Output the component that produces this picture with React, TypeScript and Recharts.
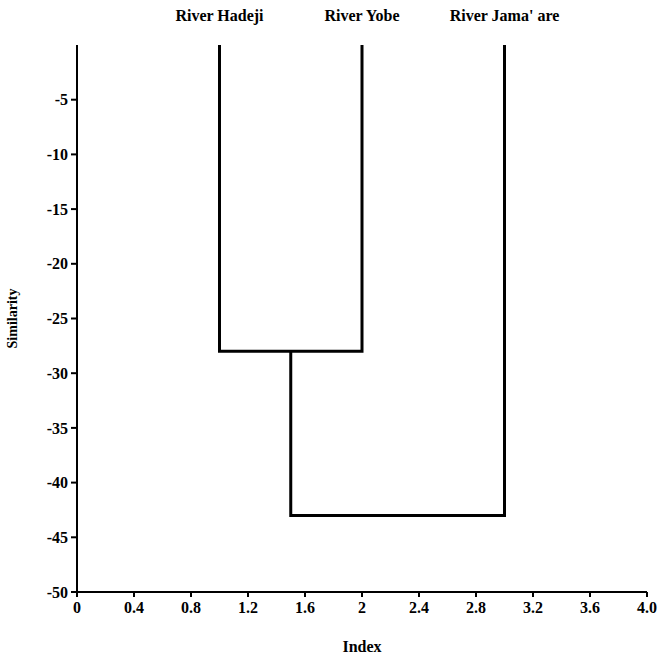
import { Line, LineChart, XAxis, YAxis, Label } from "recharts";

// leaves of the dendrogram, left to right
const leafNames = ["River Hadeji", "River Yobe", "River Jama' are"];
const leafIndex = [1, 2, 3];

// merges: [left member x, right member x, similarity at join]
const mergeLeft = [1, 1.5];
const mergeRight = [2, 3];
const mergeHeight = [-28, -43];
// where each member starts from (0 = leaf at top)
const mergeLeftFrom = [0, -28];
const mergeRightFrom = [0, 0];

const xTicks = [0, 0.4, 0.8, 1.2, 1.6, 2, 2.4, 2.8, 3.2, 3.6, 4.0];
const yTicks = [-5, -10, -15, -20, -25, -30, -35, -40, -45, -50];

const font = "'Liberation Serif', 'Times New Roman', serif";
const txt = { fontSize: 16, fontWeight: 700, fill: "#000", fontFamily: font };

const branches = mergeHeight.map((h, i) => [
  { x: mergeLeft[i], y: mergeLeftFrom[i] },
  { x: mergeLeft[i], y: h },
  { x: mergeRight[i], y: h },
  { x: mergeRight[i], y: mergeRightFrom[i] },
]);

const leafData = leafIndex.map((x) => ({ x, y: 0 }));

const fmtX = (v: number) => (v === 4 ? "4.0" : String(v));

export default function App() {
  return (
    <div style={{ position: "absolute", left: 0, top: 0, background: "#fff" }}>
      <LineChart width={662} height={656} margin={{ top: 0, right: 15, bottom: 0, left: 0 }}>
        <XAxis
          xAxisId="bottom"
          dataKey="x"
          type="number"
          domain={[0, 4]}
          ticks={xTicks}
          tickFormatter={fmtX}
          interval={0}
          height={64}
          stroke="#000"
          strokeWidth={2}
          tickSize={5}
          tickMargin={5}
          tick={txt}
        >
          <Label value="Index" position="insideBottom" offset={4} style={txt} />
        </XAxis>
        <XAxis
          xAxisId="top"
          orientation="top"
          dataKey="x"
          type="number"
          domain={[0, 4]}
          ticks={leafIndex}
          tickFormatter={(v: number) => leafNames[leafIndex.indexOf(v)] ?? ""}
          interval={0}
          height={45}
          axisLine={false}
          tickLine={false}
          tickSize={0}
          tickMargin={24}
          tick={txt}
        />
        <YAxis
          dataKey="y"
          type="number"
          domain={[-50, 0]}
          ticks={yTicks}
          interval={0}
          width={77}
          stroke="#000"
          strokeWidth={2}
          tickSize={6}
          tickMargin={3}
          tick={txt}
        >
          <Label
            value="Similarity"
            angle={-90}
            position="insideLeft"
            offset={12}
            style={{ ...txt, fontSize: 14, textAnchor: "middle" }}
          />
        </YAxis>
        <Line
          xAxisId="top"
          data={leafData}
          dataKey="y"
          stroke="none"
          dot={false}
          activeDot={false}
          legendType="none"
          isAnimationActive={false}
        />
        {branches.map((pts, i) => (
          <Line
            key={i}
            xAxisId="bottom"
            data={pts}
            dataKey="y"
            type="linear"
            stroke="#000"
            strokeWidth={3}
            dot={false}
            activeDot={false}
            isAnimationActive={false}
          />
        ))}
      </LineChart>
    </div>
  );
}
